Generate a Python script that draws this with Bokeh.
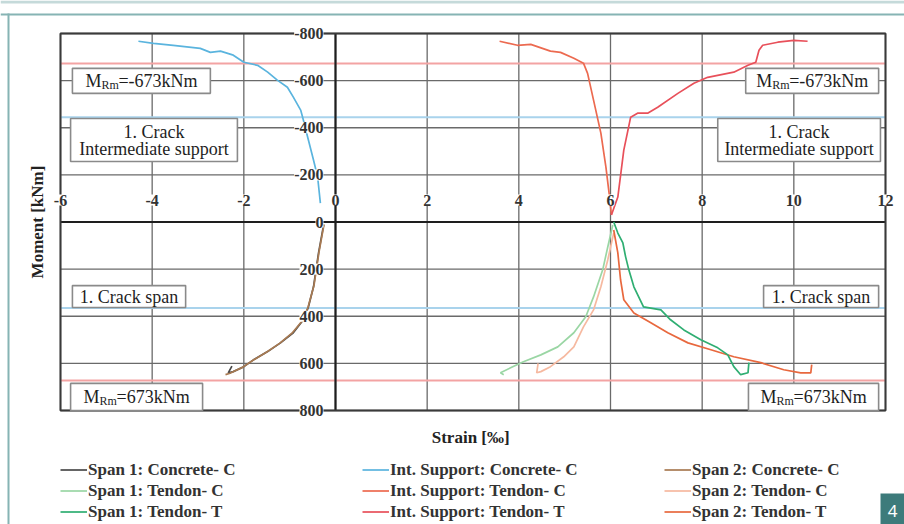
import math
from bokeh.plotting import figure
from bokeh.models import (Range1d, Legend, LegendItem, LabelSet, Label,
                          ColumnDataSource, BoxAnnotation)
from bokeh.core.properties import value
from bokeh.embed import file_html
from bokeh.resources import INLINE

SERIF = "Liberation Serif"

# ---------------- data ----------------
x_ticks = [-6, -4, -2, 0, 2, 4, 6, 8, 10, 12]
x_tick_labels = ["-6", "-4", "-2", "0", "2", "4", "6", "8", "10", "12"]
y_ticks = [-800, -600, -400, -200, 0, 200, 400, 600, 800]
y_tick_labels = ["-800", "-600", "-400", "-200", "0", "200", "400", "600", "800"]

m_rm = 673
crack_support = -445
crack_span = 365

int_conc_x = [-4.30, -3.97, -3.54, -2.95, -2.73, -2.51, -2.23, -2.00, -1.70, -1.48, -1.27,
              -1.05, -0.92, -0.76, -0.70, -0.59, -0.48, -0.39, -0.33]
int_conc_y = [-767, -758, -750, -737, -720, -725, -708, -678, -665, -636, -602,
              -572, -530, -475, -432, -347, -263, -191, -80]

int_tc_x = [3.58, 3.97, 4.26, 4.69, 4.91, 5.20, 5.41, 5.50, 5.63, 5.79, 5.90, 5.98, 6.02]
int_tc_y = [-767, -750, -754, -725, -720, -695, -674, -631, -517, -377, -233, -106, -30]

int_tt_x = [6.02, 6.16, 6.29, 6.44, 6.59, 6.81, 7.03, 7.47, 7.82, 8.12, 8.69, 9.00, 9.17,
            9.24, 9.32, 9.65, 10.0, 10.3]
int_tt_y = [-30, -106, -305, -445, -462, -462, -487, -546, -589, -614, -636, -665, -678,
            -729, -750, -763, -771, -767]

s1_conc_x = [-0.26, -0.37, -0.48, -0.59, -0.70, -0.92, -1.20, -1.48, -1.79, -2.00, -2.23, -2.34, -2.26]
s1_conc_y = [13, 131, 275, 360, 415, 470, 513, 550, 585, 614, 635, 640, 612]

s2_conc_x = [-0.25, -0.36, -0.47, -0.60, -0.72, -0.95, -1.22, -1.50, -1.80, -2.02, -2.20, -2.30, -2.40]
s2_conc_y = [10, 128, 270, 362, 418, 472, 515, 552, 587, 616, 632, 642, 648]

s1_tc_x = [6.05, 5.94, 5.83, 5.63, 5.46, 5.20, 4.85, 4.48, 4.10, 3.82, 3.60, 3.67]
s1_tc_y = [13, 106, 203, 318, 402, 470, 530, 564, 593, 619, 640, 648]

s2_tc_x = [6.07, 5.94, 5.79, 5.63, 5.41, 5.20, 4.98, 4.69, 4.48, 4.39, 4.42]
s2_tc_y = [47, 161, 275, 373, 445, 530, 572, 614, 635, 640, 600]

s1_tt_x = [6.07, 6.16, 6.27, 6.33, 6.40, 6.51, 6.72, 7.10, 7.31, 7.60, 7.97, 8.34, 8.56,
           8.69, 8.84, 9.00, 9.02]
s1_tt_y = [0, 47, 89, 148, 203, 275, 360, 373, 415, 458, 500, 534, 564, 614, 648, 640, 597]

s2_tt_x = [6.07, 6.16, 6.22, 6.29, 6.51, 6.88, 7.25, 7.69, 8.19, 8.69, 9.28, 9.78, 10.15, 10.37, 10.39]
s2_tt_y = [34, 131, 246, 330, 386, 428, 470, 513, 542, 572, 597, 627, 640, 640, 605]

series_names = ["Span 1: Concrete- C", "Span 1: Tendon- C", "Span 1: Tendon- T",
                "Int. Support: Concrete- C", "Int. Support: Tendon- C", "Int. Support: Tendon- T",
                "Span 2: Concrete- C", "Span 2: Tendon- C", "Span 2: Tendon- T"]
series_colors = ["#4a4a4a", "#9ad6a4", "#2fae72",
                 "#5ab4de", "#ec6a50", "#e8505a",
                 "#a87a52", "#f6b9a0", "#e8683e"]

# ---------------- layout: plot area inside a full-canvas frame ----------------
W, H = 904, 524
ML, MR, MT, MB = 60, 19, 33, 114
XMIN, XMAX = x_ticks[0], x_ticks[-1]
YMIN, YMAX = y_ticks[0], y_ticks[-1]
kx = (W - ML - MR) / (XMAX - XMIN)
ky = (H - MT - MB) / (YMAX - YMIN)
x_range = Range1d(XMIN - ML / kx, XMAX + MR / kx)
y_range = Range1d(YMAX + MB / ky, YMIN - MT / ky)   # inverted: negative moments on top

p = figure(width=W, height=H, output_backend="svg", toolbar_location=None, title=None,
           x_range=x_range, y_range=y_range, x_axis_location=None, y_axis_location=None,
           min_border=0, background_fill_color="white", border_fill_color="white")
p.outline_line_color = None
p.grid.visible = False

# grid
n_x, n_y = len(x_ticks), len(y_ticks)
p.segment(x0=x_ticks, y0=[YMIN] * n_x, x1=x_ticks, y1=[YMAX] * n_x, line_color="#6a6a6a", line_width=1.3)
p.segment(x0=[XMIN] * n_y, y0=y_ticks, x1=[XMAX] * n_y, y1=y_ticks, line_color="#6a6a6a", line_width=1.3)

# reference lines
ref_y = [-m_rm, m_rm, crack_support, crack_span]
ref_c = ["#f3a3a3", "#f3a3a3", "#a9d3ec", "#a9d3ec"]
p.segment(x0=[XMIN] * 4, y0=ref_y, x1=[XMAX] * 4, y1=ref_y, line_color=ref_c, line_width=2)

# zero axes
p.segment(x0=[0, XMIN], y0=[YMIN, 0], x1=[0, XMAX], y1=[YMAX, 0], line_color="#1e1e1e", line_width=2.2)
# frame
p.quad(left=[XMIN], right=[XMAX], top=[YMIN], bottom=[YMAX], fill_color=None,
       line_color="#3a3a3a", line_width=2)

# text boxes
box_left = [-5.74, -5.78, 8.95, 8.34, -5.74, -5.78, 9.34, 9.01]
box_right = [-2.73, -2.14, 11.85, 11.89, -3.27, -2.90, 11.85, 11.85]
box_top = [-652, -439, -652, -439, 270, 685, 270, 685]
box_bottom = [-546, -257, -546, -257, 363, 800, 363, 800]
p.quad(left=box_left, right=box_right, top=box_top, bottom=box_bottom,
       fill_color="white", line_color="#8a8a8a", line_width=1.6)

def cx(i):
    return (box_left[i] + box_right[i]) / 2

def cy(i):
    return (box_top[i] + box_bottom[i]) / 2

tf = value(SERIF)
TC = "#1e1e1e"
FS = "18px"
for i, val, w in [(0, "=-673kNm", -56), (2, "=-673kNm", -56), (5, "=673kNm", -53), (7, "=673kNm", -53)]:
    p.text(x=[cx(i)], y=[cy(i)], text=["M"], x_offset=w, text_font=tf, text_font_size=FS,
           text_baseline="middle", text_align="left", text_color=TC)
    p.text(x=[cx(i)], y=[cy(i)], text=["Rm"], x_offset=w + 16, y_offset=4, text_font=tf,
           text_font_size="12px", text_baseline="middle", text_align="left", text_color=TC)
    p.text(x=[cx(i)], y=[cy(i)], text=[val], x_offset=w + 33, text_font=tf, text_font_size=FS,
           text_baseline="middle", text_align="left", text_color=TC)

for i in (1, 3):
    p.text(x=[cx(i)], y=[cy(i)], text=["1. Crack"], y_offset=-8, text_font=tf, text_font_size=FS,
           text_baseline="middle", text_align="center", text_color=TC)
    p.text(x=[cx(i)], y=[cy(i)], text=["Intermediate support"], y_offset=9, text_font=tf,
           text_font_size=FS, text_baseline="middle", text_align="center", text_color=TC)
for i in (4, 6):
    p.text(x=[cx(i)], y=[cy(i)], text=["1. Crack span"], text_font=tf, text_font_size=FS,
           text_baseline="middle", text_align="center", text_color=TC)

# curves
series_x = [s1_conc_x, s1_tc_x, s1_tt_x, int_conc_x, int_tc_x, int_tt_x, s2_conc_x, s2_tc_x, s2_tt_x]
series_y = [s1_conc_y, s1_tc_y, s1_tt_y, int_conc_y, int_tc_y, int_tt_y, s2_conc_y, s2_tc_y, s2_tt_y]
draw_order = [0, 6, 3, 4, 5, 1, 7, 8, 2]
renderers = {}
for k in draw_order:
    renderers[k] = p.line(series_x[k], series_y[k], line_color=series_colors[k], line_width=1.7)

# tick labels on the centre axes
xsrc = ColumnDataSource(dict(x=x_ticks, y=[-93] * n_x, t=x_tick_labels))
p.add_layout(LabelSet(x="x", y="y", text="t", source=xsrc, text_align="center", text_baseline="middle",
                      text_font=tf, text_font_style="bold", text_font_size="16px", text_color="#333333",
                      background_fill_color="white"))
ysrc = ColumnDataSource(dict(x=[0] * n_y, y=y_ticks, t=y_tick_labels))
p.add_layout(LabelSet(x="x", y="y", text="t", source=ysrc, x_offset=-12, text_align="right",
                      text_baseline="middle", text_font=tf, text_font_style="bold",
                      text_font_size="16px", text_color="#333333", background_fill_color="white"))

# axis titles
p.text(x=[(XMIN + XMAX) / 2 - 0.05], y=[YMAX], y_offset=27, text=["Strain [‰]"], text_font=tf,
       text_font_style="bold", text_font_size="17px", text_align="center", text_baseline="middle",
       text_color="#222222")
p.text(x=[XMIN], y=[(YMIN + YMAX) / 2], x_offset=-23, text=["Moment [kNm]"], angle=math.pi / 2,
       text_font=tf, text_font_style="bold", text_font_size="17px", text_align="center",
       text_baseline="middle", text_color="#222222")

# legend
items = [LegendItem(label=series_names[k], renderers=[renderers[k]]) for k in range(9)]
legend = Legend(items=items, ncols=3, location=(60, 2), orientation="vertical",
                label_text_font=SERIF, label_text_font_style="bold", label_text_font_size="17px",
                label_text_color="#333333", glyph_width=27, glyph_height=21, label_height=21,
                label_standoff=1, label_width=274, spacing=0, padding=0, margin=0,
                border_line_color=None, background_fill_alpha=0)
p.add_layout(legend, "center")

# page decorations
deco = [(0, 904, 0, 3, "#c5dada"), (0, 904, 13, 15, "#86b4b4"), (7, 9, 13, 524, "#86b4b4"),
        (880, 904, 493, 524, "#3d7b7b")]
for l, r, t, b, c in deco:
    p.add_layout(BoxAnnotation(left=l, right=r, top=t, bottom=b, left_units="canvas", right_units="canvas",
                               top_units="canvas", bottom_units="canvas", fill_color=c, fill_alpha=1,
                               line_color=None, level="annotation"))
p.add_layout(Label(x=892, y=510, x_units="canvas", y_units="canvas", text="4", text_align="center",
                   text_baseline="middle", text_color="white", text_font="Noto Sans",
                   text_font_size="17px", level="overlay"))

open("out.html", "w").write(file_html(p, INLINE))
